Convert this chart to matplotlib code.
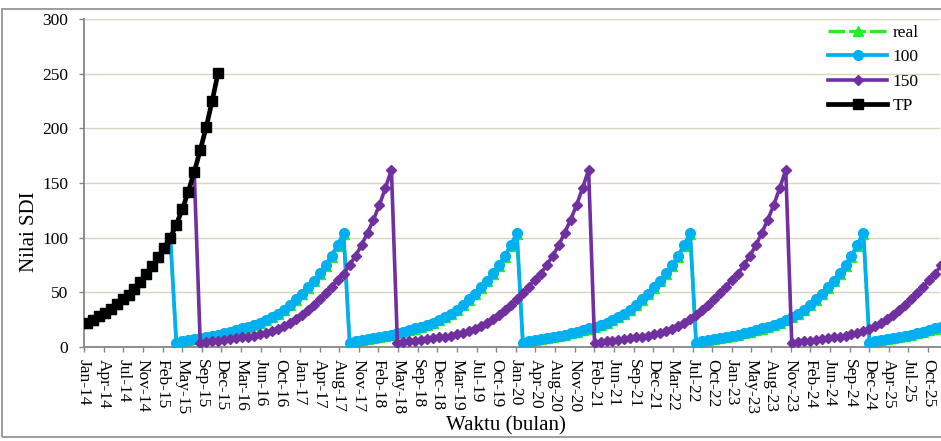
import numpy as np
import matplotlib
matplotlib.use("Agg")
import matplotlib.pyplot as plt
from matplotlib.patches import Rectangle

plt.rcParams['font.family'] = ['Liberation Serif', 'DejaVu Serif']

# Monthly SDI values, starting Jan-2014
tp = [22, 25, 28, 31, 35, 39, 43.5, 48, 53.5, 59.5, 66.5, 74, 82.5, 91, 100,
      112, 126, 142, 160, 180, 201, 225, 251]

sdi_100 = [
    22, 25, 28, 31, 35, 39, 43.5, 48, 53.5, 59.5, 66.5, 74, 82.5, 91, 100,
    4.0, 5.2, 6.2, 7.1, 8.0, 9.0, 10.1, 11.3, 12.6, 14.0, 15.5, 17.0, 18.7, 20.4, 22.3,
    24.6, 27.3, 30.4, 34.1, 38.6, 43.5, 48.6, 54.5, 60.8, 67.5, 75.0, 83.5, 93.5, 104.0,
    4.0, 5.2, 6.2, 7.1, 8.0, 9.0, 10.1, 11.3, 12.6, 14.0, 15.5, 17.0, 18.7, 20.4, 22.3,
    24.6, 27.3, 30.4, 34.1, 38.6, 43.5, 48.6, 54.5, 60.8, 67.5, 75.0, 83.5, 93.5, 104.0,
    4.0, 5.2, 6.2, 7.1, 8.0, 9.0, 10.1, 11.3, 12.6, 14.0, 15.5, 17.0, 18.7, 20.4, 22.3,
    24.6, 27.3, 30.4, 34.1, 38.6, 43.5, 48.6, 54.5, 60.8, 67.5, 75.0, 83.5, 93.5, 104.0,
    4.0, 5.2, 6.2, 7.1, 8.0, 9.0, 10.1, 11.3, 12.6, 14.0, 15.5, 17.0, 18.7, 20.4, 22.3,
    24.6, 27.3, 30.4, 34.1, 38.6, 43.5, 48.6, 54.5, 60.8, 67.5, 75.0, 83.5, 93.5, 104.0,
    4.0, 5.2, 6.2, 7.1, 8.0, 9.0, 10.1, 11.3, 12.6, 14.0, 15.5, 17.0, 18.7,
]

sdi_150 = [
    22, 25, 28, 31, 35, 39, 43.5, 48, 53.5, 59.5, 66.5, 74, 82.5, 91, 100, 112, 126, 142, 160,
    4.0, 4.6, 5.2, 5.8, 6.5, 7.3, 7.9, 8.8, 9.6, 10.5, 11.6, 13.0, 14.6, 16.6, 19.0, 22.0,
    25.3, 29.3, 33.9, 38.6, 43.6, 49.1, 55.2, 61.3, 67.0, 75.0, 83.5, 93.0, 104.5, 116.5,
    130.0, 145.5, 162.0,
    4.0, 4.6, 5.2, 5.8, 6.5, 7.3, 7.9, 8.8, 9.6, 10.5, 11.6, 13.0, 14.6, 16.6, 19.0, 22.0,
    25.3, 29.3, 33.9, 38.6, 43.6, 49.1, 55.2, 61.3, 67.0, 75.0, 83.5, 93.0, 104.5, 116.5,
    130.0, 145.5, 162.0,
    4.0, 4.6, 5.2, 5.8, 6.5, 7.3, 7.9, 8.8, 9.6, 10.5, 11.6, 13.0, 14.6, 16.6, 19.0, 22.0,
    25.3, 29.3, 33.9, 38.6, 43.6, 49.1, 55.2, 61.3, 67.0, 75.0, 83.5, 93.0, 104.5, 116.5,
    130.0, 145.5, 162.0,
    4.0, 4.6, 5.2, 5.8, 6.5, 7.3, 7.9, 8.8, 9.6, 10.5, 11.6, 13.0, 14.6, 16.6, 19.0, 22.0,
    25.3, 29.3, 33.9, 38.6, 43.6, 49.1, 55.2, 61.3, 67.0, 75.0,
]

real = [
    22, 25, 28, 31, 35, 39, 43.5, 48, 53.5, 59.5, 66.5, 74, 82.5, 91, 100,
    3.8, 5.0, 6.0, 6.9, 7.8, 8.8, 9.9, 11.1, 12.4, 13.8, 15.3, 16.8, 18.5, 20.2, 22.0,
    24.3, 27.0, 30.1, 33.7, 38.2, 43.0, 48.1, 54.0, 60.2, 66.8, 74.3, 82.7, 92.6, 103.0,
    3.8, 5.0, 6.0, 6.9, 7.8, 8.8, 9.9, 11.1, 12.4, 13.8, 15.3, 16.8, 18.5, 20.2, 22.0,
    24.3, 27.0, 30.1, 33.7, 38.2, 43.0, 48.1, 54.0, 60.2, 66.8, 74.3, 82.7, 92.6, 103.0,
    3.8, 5.0, 6.0, 6.9, 7.8, 8.8, 9.9, 11.1, 12.4, 13.8, 15.3, 16.8, 18.5, 20.2, 22.0,
    24.3, 27.0, 30.1, 33.7, 38.2, 43.0, 48.1, 54.0, 60.2, 66.8, 74.3, 82.7, 92.6, 103.0,
    3.8, 5.0, 6.0, 6.9, 7.8, 8.8, 9.9, 11.1, 12.4, 13.8, 15.3, 16.8, 18.5, 20.2, 22.0,
    24.3, 27.0, 30.1, 33.7, 38.2, 43.0, 48.1, 54.0, 60.2, 66.8, 74.3, 82.7, 92.6, 103.0,
    3.8, 5.0, 6.0, 6.9, 7.8, 8.8, 9.9, 11.1, 12.4, 13.8, 15.3, 16.8, 18.5,
]

tick_labels = ["Jan-14", "Apr-14", "Jul-14", "Nov-14", "Feb-15", "May-15", "Sep-15",
               "Dec-15", "Mar-16", "Jun-16", "Oct-16", "Jan-17", "Apr-17", "Aug-17",
               "Nov-17", "Feb-18", "May-18", "Sep-18", "Dec-18", "Mar-19", "Jul-19",
               "Oct-19", "Jan-20", "Apr-20", "Aug-20", "Nov-20", "Feb-21", "Jun-21",
               "Sep-21", "Dec-21", "Mar-22", "Jul-22", "Oct-22", "Jan-23", "May-23",
               "Aug-23", "Nov-23", "Feb-24", "Jun-24", "Sep-24", "Dec-24", "Apr-25",
               "Jul-25", "Oct-25"]

W, H = 941, 441
fig = plt.figure(figsize=(W / 100, H / 100), dpi=100)
ax = fig.add_axes([84 / W, (H - 347) / H, 856 / W, 328 / H])

# x in months since Jan-2014; date ticks every 100 days
month_len = 30.4375
first_tick = -0.45
tick_pos = first_tick + np.arange(len(tick_labels)) * (100 / month_len)

c_real = '#22ee22'
c_100 = '#00b0f0'
c_150 = '#7030a0'
c_tp = '#000000'

ax.plot(np.arange(len(real)), real, color=c_real, lw=2.4, dashes=(5, 1.2),
        marker='^', ms=6.5, label='real', zorder=2)
ax.plot(np.arange(len(sdi_100)), sdi_100, color=c_100, lw=2.7,
        marker='o', ms=7, label='100', zorder=3)
ax.plot(np.arange(len(sdi_150)), sdi_150, color=c_150, lw=2.6,
        marker='D', ms=4.8, label='150', zorder=4)
ax.plot(np.arange(len(tp)), tp, color=c_tp, lw=3.4,
        marker='s', ms=7, label='TP', zorder=5)

ax.set_xlim(first_tick, first_tick + 856 / 5.975)
ax.set_ylim(0, 300)
ax.set_yticks(np.arange(0, 301, 50))
ax.set_xticks(tick_pos)
ax.set_xticklabels(tick_labels, rotation=270, ha='center', va='top')

ax.set_axisbelow(True)
ax.yaxis.grid(True, color='#d9d4bd', lw=1.0)
ax.xaxis.grid(False)

for s in ['top', 'right']:
    ax.spines[s].set_visible(False)
for s in ['left', 'bottom']:
    ax.spines[s].set_color('#868686')
    ax.spines[s].set_linewidth(1.3)

ax.tick_params(axis='x', direction='out', length=3.5, width=1, color='#868686',
               pad=5, labelsize=12.5)
ax.tick_params(axis='y', direction='out', length=3.5, width=1, color='#868686',
               pad=8, labelsize=12.5)

fig.text(30 / W, 1 - 232 / H, 'Nilai SDI', rotation=90, ha='center', va='center',
         fontsize=15)
fig.text(506 / W, 1 - 426 / H, 'Waktu (bulan)', ha='center', va='center',
         fontsize=15)

leg = ax.legend(loc='upper left',
                bbox_to_anchor=((828 - 84) / 856, (347 - 25) / 328),
                frameon=False, fontsize=12.5, handlelength=3.4,
                handletextpad=0.3, labelspacing=0.47, borderpad=0,
                borderaxespad=0, numpoints=1)

fig.add_artist(Rectangle((2 / W, 4 / H), 1.2, (437 - 9) / H,
                         transform=fig.transFigure, fill=False,
                         edgecolor='#8c8c8c', lw=1.2))

fig.savefig('out.png', dpi=100)
